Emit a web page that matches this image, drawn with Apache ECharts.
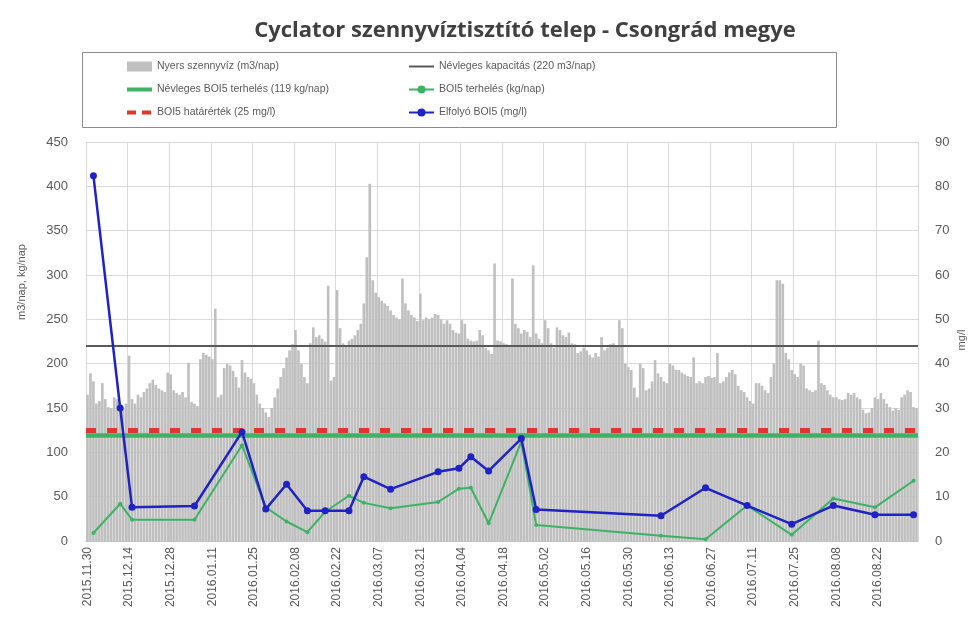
<!DOCTYPE html>
<html>
<head>
<meta charset="utf-8">
<script src="https://cdn.jsdelivr.net/npm/echarts@6/dist/echarts.min.js"></script>
<style>
  html, body { margin: 0; padding: 0; background: #fff; }
  #chart { width: 975px; height: 625px; }
</style>
</head>
<body>
<div id="chart"></div>
<script>
// napi nyers szennyviz, 2015.11.30-tol 280 nap (m3/nap)
const startDate = new Date(2015, 10, 30)
const dayCount = 280
const rawFlow = [
  165,189,180,155,158,178,160,151,150,162,
  160,151,150,155,209,160,155,165,162,168,
  172,178,182,176,172,170,168,190,188,170,
  167,165,168,162,201,157,155,152,205,212,
  210,208,205,262,162,165,195,200,198,192,
  185,173,204,190,185,183,178,165,155,150,
  145,140,150,162,172,185,195,207,215,222,
  238,215,200,185,178,223,241,230,232,228,
  225,288,181,185,283,240,223,220,226,228,
  232,238,245,268,320,403,294,280,275,271,
  268,265,260,255,252,250,296,268,260,255,
  252,248,279,249,252,250,252,256,255,250,
  245,249,245,238,235,234,249,245,228,226,
  225,226,238,232,218,215,211,313,226,225,
  223,222,220,296,245,240,234,238,236,230,
  311,234,228,223,249,240,223,218,241,238,
  232,230,235,223,222,212,214,218,215,210,
  207,212,208,230,215,218,222,223,220,249,
  240,200,196,193,173,162,200,195,170,172,
  180,204,189,185,180,178,200,198,193,193,
  190,188,186,185,207,178,180,178,185,186,
  184,185,212,178,180,185,190,193,188,175,
  170,168,162,158,155,178,178,175,170,167,
  185,200,294,294,290,212,205,193,188,185,
  200,198,172,170,168,170,226,178,176,170,
  165,162,162,160,159,160,167,165,167,162,
  160,148,144,145,150,162,160,167,160,155,
  151,147,150,148,162,165,170,168,151,150
]

// mintavetelek
const sampleDates = [
  '2015.12.02','2015.12.11','2015.12.15','2016.01.05','2016.01.21',
  '2016.01.29','2016.02.05','2016.02.12','2016.02.18','2016.02.26',
  '2016.03.02','2016.03.11','2016.03.27','2016.04.03','2016.04.07',
  '2016.04.13','2016.04.24','2016.04.29','2016.06.10','2016.06.25',
  '2016.07.09','2016.07.24','2016.08.07','2016.08.21','2016.09.03'
]
const bodLoad = [9,42,24,24,108,38,22,10,33,51,43,37,44,59,60,20,112,18,6,2,40,7,48,38,68]
const bodOut = [82.4,30,7.6,7.9,24.6,7.2,12.8,6.8,6.8,6.8,14.5,11.7,15.6,16.4,19.0,15.8,23.1,7.1,5.7,12.0,8.0,3.8,8.0,5.9,5.9]

const capacity = 220
const nominalLoad = 119
const bodLimit = 25

const pad = n => (n < 10 ? '0' : '') + n
const dates = []
for (let i = 0; i < dayCount; i++) {
  const d = new Date(startDate.getFullYear(), startDate.getMonth(), startDate.getDate() + i)
  dates.push(d.getFullYear() + '.' + pad(d.getMonth() + 1) + '.' + pad(d.getDate()))
}

const font = 'Liberation Sans'
const txt = '#595959'

// jelmagyarazat ikonok (25x10 doboz)
const iconThin = 'path://M0,0M25,10M0,4H25V6H0Z'
const iconThick = 'path://M0,0M25,10M0,3H25V7H0Z'
const iconDash = 'path://M0,0M25,10M0,3H9V7H0ZM15,3H24V7H15Z'

const chart = echarts.init(document.getElementById('chart'))
chart.setOption({
  animation: false,
  textStyle: { fontFamily: font },
  title: {
    text: 'Cyclator szennyvíztisztító telep - Csongrád megye',
    left: 520, top: 15, textAlign: 'center',
    textStyle: { fontSize: 22, fontWeight: 'bold', color: '#404040', fontFamily: 'Open Sans' }
  },
  graphic: [
    { type: 'rect', shape: { x: 82.5, y: 52.5, width: 754, height: 75 },
      style: { fill: 'none', stroke: '#8c8c8c', lineWidth: 1 } },
    { type: 'text', x: 22, y: 282, rotation: Math.PI / 2,
      style: { text: 'm3/nap, kg/nap', fill: txt, font: '11px ' + font, align: 'center', verticalAlign: 'middle' } },
    { type: 'text', x: 962, y: 340, rotation: Math.PI / 2,
      style: { text: 'mg/l', fill: txt, font: '11px ' + font, align: 'center', verticalAlign: 'middle' } }
  ],
  legend: [
    {
      left: 127, top: 61, padding: 0, orient: 'vertical', itemWidth: 25, itemHeight: 10, itemGap: 12,
      textStyle: { fontSize: 10.5, color: txt },
      data: [
        { name: 'Nyers szennyvíz (m3/nap)', icon: 'rect' },
        { name: 'Névleges BOI5 terhelés (119 kg/nap)', icon: iconThick },
        { name: 'BOI5 határérték (25 mg/l)', icon: iconDash }
      ]
    },
    {
      left: 408, top: 61, padding: 0, orient: 'vertical', itemWidth: 25, itemHeight: 10, itemGap: 12,
      textStyle: { fontSize: 10.5, color: txt },
      data: [
        { name: 'Névleges kapacitás (220 m3/nap)', icon: iconThin },
        'BOI5 terhelés (kg/nap)',
        'Elfolyó BOI5 (mg/l)'
      ]
    }
  ],
  grid: { left: 86, right: 57, top: 142, bottom: 84 },
  xAxis: {
    type: 'category',
    data: dates,
    boundaryGap: true,
    axisLine: { lineStyle: { color: '#bfbfbf' } },
    axisTick: { show: false, interval: 13 },
    axisLabel: { interval: 13, rotate: 90, fontSize: 12, color: txt, margin: 6 },
    splitLine: { show: true, interval: 13, lineStyle: { color: '#d9d9d9' } }
  },
  yAxis: [
    {
      type: 'value', min: 0, max: 450, interval: 50,
      axisLine: { show: false }, axisTick: { show: false },
      axisLabel: { fontSize: 13, color: txt, margin: 18 },
      splitLine: { lineStyle: { color: '#d9d9d9' } }
    },
    {
      type: 'value', min: 0, max: 90, interval: 10, position: 'right',
      axisLine: { show: false }, axisTick: { show: false },
      axisLabel: { fontSize: 13, color: txt, margin: 17 },
      splitLine: { show: false }
    }
  ],
  series: [
    {
      name: 'Nyers szennyvíz (m3/nap)', type: 'bar', data: rawFlow,
      itemStyle: { color: '#bfbfbf' }, barCategoryGap: '12%', z: 1
    },
    {
      name: 'Névleges kapacitás (220 m3/nap)', type: 'line', data: [], symbol: 'none',
      itemStyle: { color: '#595959' }, lineStyle: { color: '#595959', width: 2 }, z: 3,
      markLine: { silent: true, symbol: 'none', label: { show: false },
        lineStyle: { color: '#595959', width: 2, type: 'solid' }, data: [{ yAxis: capacity }] }
    },
    {
      name: 'Névleges BOI5 terhelés (119 kg/nap)', type: 'line', data: [], symbol: 'none',
      itemStyle: { color: '#3cb364' }, lineStyle: { color: '#3cb364', width: 4 }, z: 3,
      markLine: { silent: true, symbol: 'none', label: { show: false },
        lineStyle: { color: '#3cb364', width: 4.5, type: 'solid' }, data: [{ yAxis: nominalLoad }] }
    },
    {
      name: 'BOI5 határérték (25 mg/l)', type: 'line', data: [], symbol: 'none', yAxisIndex: 1,
      itemStyle: { color: '#e0362c' }, lineStyle: { color: '#e0362c', width: 4, type: [8, 6] }, z: 4,
      markLine: { silent: true, symbol: 'none', label: { show: false },
        lineStyle: { color: '#e0362c', width: 5, type: [10, 11] }, data: [{ yAxis: bodLimit }] }
    },
    {
      name: 'BOI5 terhelés (kg/nap)', type: 'line', yAxisIndex: 0,
      data: sampleDates.map((d, i) => [d, bodLoad[i]]),
      symbol: 'circle', symbolSize: 4, showAllSymbol: true,
      itemStyle: { color: '#3cb364' }, lineStyle: { color: '#3cb364', width: 2 }, z: 5
    },
    {
      name: 'Elfolyó BOI5 (mg/l)', type: 'line', yAxisIndex: 1,
      data: sampleDates.map((d, i) => [d, bodOut[i]]),
      symbol: 'circle', symbolSize: 7, showAllSymbol: true,
      itemStyle: { color: '#1f22c4' }, lineStyle: { color: '#1f22c4', width: 2.5 }, z: 6
    }
  ]
})
</script>
</body>
</html>
